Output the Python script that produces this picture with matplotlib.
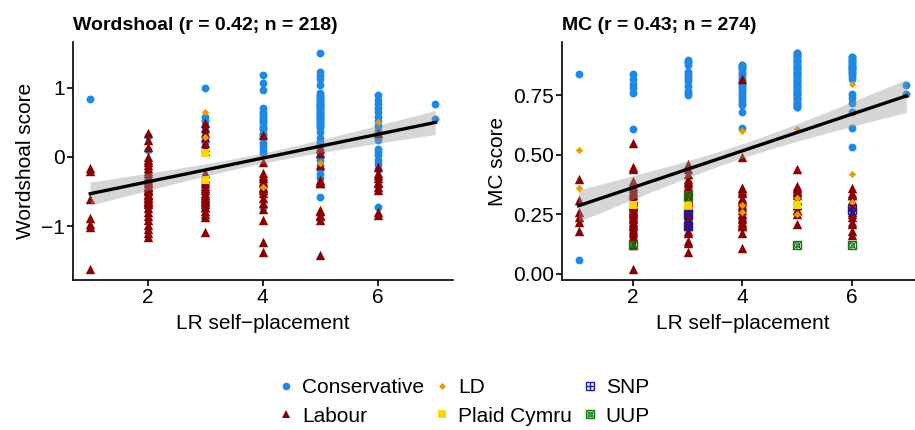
import numpy as np
import matplotlib.pyplot as plt
from matplotlib.lines import Line2D
from matplotlib.legend_handler import HandlerTuple

plt.rcParams['font.family'] = ['Liberation Sans', 'DejaVu Sans']

# scores by LR self-placement, one dict per party  {x: [y, ...]}
# (many respondents share the same score, so several values repeat / overlap)
# ---- Wordshoal panel
ws_con = {1: [0.83],
          2: [0.30, 0.10, -0.73],
          3: [0.99, 0.58, 0.52, 0.45, 0.38, 0.30, 0.22],
          4: [1.18, 1.07, 0.96, 0.70, 0.65, 0.62, 0.58, 0.55, 0.52, 0.50, 0.45, 0.42,
              0.40, 0.33, 0.33, 0.28, 0.20, 0.15, 0.10, 0.05, -0.73],
          5: [1.50, 1.23, 1.18, 1.12, 1.04, 0.92, 0.90, 0.88, 0.85, 0.84, 0.82, 0.80,
              0.78, 0.77, 0.75, 0.74, 0.72, 0.70, 0.69, 0.68, 0.65, 0.63, 0.62, 0.60,
              0.58, 0.57, 0.55, 0.53, 0.52, 0.50, 0.47, 0.46, 0.44, 0.41, 0.36, 0.27,
              0.22, 0.17, 0.12, 0.06, 0.0, -0.05, -0.12, -0.18, -0.25, -0.30, -0.58],
          6: [0.89, 0.82, 0.76, 0.70, 0.65, 0.58, 0.52, 0.45, 0.38, 0.30, 0.24, 0.12,
              0.07, 0.02, -0.04, -0.10, -0.17, -0.73],
          7: [0.76, 0.55]}
ws_lab = {1: [-0.16, -0.20, -0.61, -0.88, -0.97, -1.02, -1.62],
          2: [0.34, 0.24, 0.14, 0.0, -0.04, -0.08, -0.12, -0.16, -0.20, -0.24, -0.28,
              -0.30, -0.33, -0.36, -0.38, -0.42, -0.43, -0.47, -0.48, -0.50, -0.53,
              -0.55, -0.58, -0.60, -0.63, -0.65, -0.65, -0.68, -0.74, -0.80, -0.86,
              -0.92, -0.98, -1.04, -1.10, -1.16],
          3: [0.49, 0.42, 0.35, 0.28, 0.20, 0.14, 0.08, -0.24, -0.30, -0.35, -0.38,
              -0.42, -0.45, -0.48, -0.52, -0.55, -0.58, -0.60, -0.62, -0.63, -0.65,
              -0.68, -0.73, -0.73, -0.78, -0.83, -0.87, -1.08],
          4: [0.32, -0.07, -0.24, -0.27, -0.30, -0.35, -0.38, -0.43, -0.45, -0.48,
              -0.52, -0.60, -0.66, -0.75, -0.91, -1.23, -1.37],
          5: [0.13, 0.05, -0.12, -0.34, -0.36, -0.38, -0.38, -0.77, -0.78, -0.84,
              -0.86, -0.91, -1.42],
          6: [0.35, -0.14, -0.24, -0.26, -0.30, -0.36, -0.38, -0.43, -0.48, -0.80, -0.84]}
ws_ld = {3: [0.65, 0.29], 4: [-0.43], 5: [-0.09], 6: [0.51]}
ws_pc = {3: [0.05, -0.34]}
ws_snp = {}
ws_uup = {}

# ---- MC panel
mc_con = {1: [0.84, 0.06],
          2: [0.84, 0.82, 0.80, 0.78, 0.76, 0.61],
          3: [0.90, 0.89, 0.89, 0.88, 0.85, 0.84, 0.83, 0.82, 0.81, 0.79, 0.77, 0.76, 0.75],
          4: [0.88, 0.88, 0.87, 0.87, 0.86, 0.85, 0.84, 0.83, 0.82, 0.81, 0.80, 0.79,
              0.78, 0.77, 0.76, 0.75, 0.74, 0.73, 0.72, 0.71, 0.68, 0.615],
          5: [0.93, 0.92, 0.91, 0.90, 0.89, 0.88, 0.87, 0.86, 0.85, 0.84, 0.83, 0.82,
              0.81, 0.80, 0.79, 0.78, 0.77, 0.76, 0.75, 0.74, 0.73, 0.72, 0.71, 0.70,
              0.93, 0.92, 0.91, 0.90, 0.89, 0.88, 0.87, 0.86, 0.85, 0.84, 0.83, 0.82,
              0.81, 0.80, 0.79, 0.78, 0.77, 0.76, 0.75, 0.74, 0.73, 0.72, 0.71, 0.70],
          6: [0.91, 0.91, 0.90, 0.90, 0.89, 0.89, 0.88, 0.88, 0.87, 0.87, 0.86, 0.86,
              0.85, 0.85, 0.84, 0.83, 0.82, 0.755, 0.74, 0.72, 0.68, 0.615, 0.535],
          7: [0.795, 0.755]}
mc_lab = {1: [0.40, 0.31, 0.26, 0.24, 0.22, 0.18],
          2: [0.55, 0.45, 0.44, 0.39, 0.38, 0.37, 0.36, 0.35, 0.34, 0.33, 0.32, 0.31,
              0.31, 0.30, 0.29, 0.29, 0.28, 0.28, 0.27, 0.27, 0.26, 0.26, 0.25, 0.25,
              0.24, 0.24, 0.23, 0.22, 0.22, 0.21, 0.20, 0.20, 0.19, 0.18, 0.17, 0.16,
              0.15, 0.12, 0.02],
          3: [0.46, 0.44, 0.42, 0.40, 0.39, 0.38, 0.37, 0.36, 0.35, 0.34, 0.33, 0.32,
              0.32, 0.31, 0.30, 0.30, 0.29, 0.28, 0.28, 0.27, 0.27, 0.26, 0.26, 0.25,
              0.24, 0.23, 0.22, 0.21, 0.20, 0.18, 0.17, 0.14, 0.13, 0.09],
          4: [0.82, 0.49, 0.36, 0.36, 0.35, 0.34, 0.32, 0.31, 0.30, 0.29, 0.28, 0.27,
              0.25, 0.25, 0.24, 0.23, 0.22, 0.21, 0.20, 0.20, 0.17, 0.11],
          5: [0.44, 0.37, 0.36, 0.36, 0.35, 0.35, 0.34, 0.33, 0.31, 0.31, 0.29, 0.29,
              0.27, 0.27, 0.25, 0.21],
          6: [0.36, 0.34, 0.33, 0.33, 0.31, 0.29, 0.28, 0.26, 0.25, 0.24, 0.22, 0.21,
              0.18, 0.165]}
mc_ld = {1: [0.52, 0.36], 2: [0.29], 3: [0.30], 4: [0.60, 0.29, 0.26],
         5: [0.61, 0.32, 0.25], 6: [0.80, 0.42, 0.30]}
mc_pc = {2: [0.29], 3: [0.285], 5: [0.29]}
mc_snp = {3: [0.25, 0.20], 6: [0.27]}
mc_uup = {2: [0.12], 3: [0.33], 5: [0.12], 6: [0.12]}

parties = ['Conservative', 'Labour', 'LD', 'Plaid Cymru', 'SNP', 'UUP']
colors = ['#1E88E5', '#8B0000', '#E69F00', '#FFD700', '#1A1AA6', '#147814']

ws_r, ws_n = 0.42, 218
mc_r, mc_n = 0.43, 274


def expand(d):
    xs, ys = [], []
    for k, v in d.items():
        xs += [k] * len(v)
        ys += v
    return np.array(xs, float), np.array(ys, float)


def draw_party(ax, d, i):
    x, y = expand(d)
    if len(x) == 0:
        return
    c = colors[i]
    if i == 0:
        ax.scatter(x, y, s=32, marker='o', color=c, lw=0, zorder=2)
    elif i == 1:
        ax.scatter(x, y, s=46, marker='^', color=c, lw=0, zorder=2)
    elif i == 2:
        ax.scatter(x, y, s=14, marker='D', color=c, lw=0, zorder=2)
    elif i == 3:
        ax.scatter(x, y, s=40, marker='s', color=c, lw=0, zorder=2)
    elif i == 4:
        ax.scatter(x, y, s=36, marker='s', facecolor='none', edgecolor=c, lw=1, zorder=2)
        ax.scatter(x, y, s=36, marker='+', color=c, lw=1, zorder=2)
    else:
        ax.scatter(x, y, s=36, marker='s', facecolor='none', edgecolor=c, lw=1, zorder=2)
        ax.scatter(x, y, s=22, marker='x', color=c, lw=0.8, zorder=2)
        ax.scatter(x, y, s=14, marker='o', facecolor='none', edgecolor=c, lw=0.8, zorder=2)


def panel(ax, groups, title, ylabel):
    allx, ally = [], []
    for i, d in enumerate(groups):
        draw_party(ax, d, i)
        x, y = expand(d)
        allx.append(x)
        ally.append(y)
    x = np.concatenate(allx)
    y = np.concatenate(ally)
    # lm fit with 95% band
    b, a = np.polyfit(x, y, 1)
    n = len(x)
    resid = y - (a + b * x)
    s = np.sqrt(np.sum(resid ** 2) / (n - 2))
    xm = x.mean()
    sxx = np.sum((x - xm) ** 2)
    grid = np.linspace(x.min(), x.max(), 80)
    fit = a + b * grid
    se = s * np.sqrt(1.0 / n + (grid - xm) ** 2 / sxx)
    ax.fill_between(grid, fit - 1.97 * se, fit + 1.97 * se, color='#999999', alpha=0.4, lw=0, zorder=3)
    ax.plot(grid, fit, color='black', lw=2.4, zorder=4)

    ax.set_title(title, loc='left', fontsize=14, fontweight='bold', pad=9)
    ax.set_xlabel('LR self\u2212placement', fontsize=15, labelpad=5)
    ax.set_ylabel(ylabel, fontsize=15, labelpad=4)
    ax.set_xlim(0.7, 7.3)
    ax.set_xticks([2, 4, 6])
    for sp in ['top', 'right']:
        ax.spines[sp].set_visible(False)
    for sp in ['left', 'bottom']:
        ax.spines[sp].set_linewidth(1.2)
    ax.tick_params(direction='out', length=4, width=1.2, labelsize=15, colors='black', pad=2)


fig = plt.figure(figsize=(9.15, 4.3), dpi=100)
ax1 = fig.add_axes([73 / 915, 150 / 430, 379.5 / 915, 238 / 430])
ax2 = fig.add_axes([562.2 / 915, 150 / 430, 360.5 / 915, 238 / 430])

panel(ax1, [ws_con, ws_lab, ws_ld, ws_pc, ws_snp, ws_uup],
      'Wordshoal (r = %.2f; n = %d)' % (ws_r, ws_n), 'Wordshoal score')
ax1.set_ylim(-1.78, 1.66)
ax1.set_yticks([-1, 0, 1])

panel(ax2, [mc_con, mc_lab, mc_ld, mc_pc, mc_snp, mc_uup],
      'MC (r = %.2f; n = %d)' % (mc_r, mc_n), 'MC score')
ax2.set_ylim(-0.026, 0.975)
ax2.set_yticks([0, 0.25, 0.5, 0.75])
ax2.set_yticklabels(['%.2f' % v for v in [0, 0.25, 0.5, 0.75]])

# legend
handles = [
    Line2D([], [], ls='', marker='o', ms=5.5, color=colors[0], mew=0),
    Line2D([], [], ls='', marker='^', ms=6, color=colors[1], mew=0),
    Line2D([], [], ls='', marker='D', ms=3.5, color=colors[2], mew=0),
    Line2D([], [], ls='', marker='s', ms=6, color=colors[3], mew=0),
    (Line2D([], [], ls='', marker='s', ms=6, mfc='none', mec=colors[4], mew=1),
     Line2D([], [], ls='', marker='+', ms=6, color=colors[4], mew=1)),
    (Line2D([], [], ls='', marker='s', ms=6, mfc='none', mec=colors[5], mew=1),
     Line2D([], [], ls='', marker='x', ms=4.5, color=colors[5], mew=0.8),
     Line2D([], [], ls='', marker='o', ms=3.5, mfc='none', mec=colors[5], mew=0.8)),
]
fig.legend(handles, parties, ncol=3, loc='center', bbox_to_anchor=(464 / 915, 0.0655),
           frameon=False, fontsize=15, handlelength=0.8, handletextpad=0.36,
           columnspacing=0.46, labelspacing=0.45,
           handler_map={tuple: HandlerTuple(ndivide=1, pad=0)})

fig.savefig('out.png', dpi=100)
